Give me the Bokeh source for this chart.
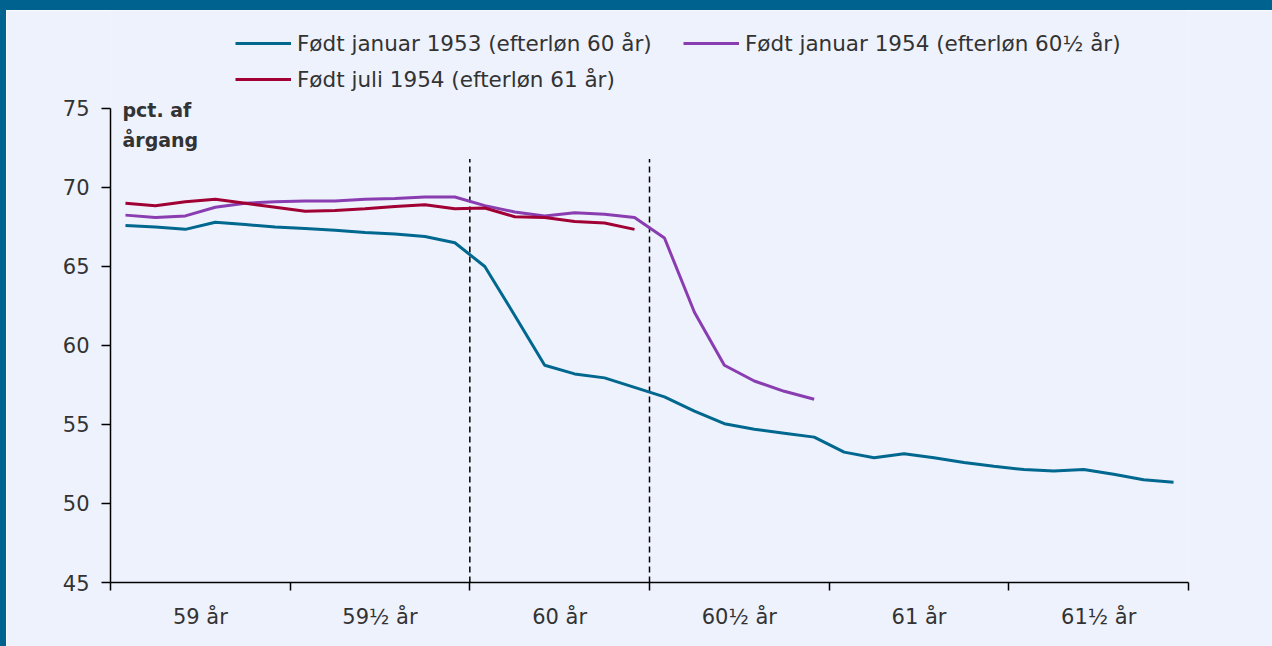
from bokeh.plotting import figure
from bokeh.models import Range1d, FixedTicker, Legend, LegendItem, Label
from bokeh.embed import file_html
from bokeh.resources import INLINE

# ---- data (percent of cohort, monthly) ----
age_labels = ["59 år", "59½ år", "60 år", "60½ år", "61 år", "61½ år"]
months_per_label = 6

born_jan_1953 = [67.6, 67.5, 67.35, 67.8, 67.65, 67.5, 67.4, 67.3, 67.15, 67.05, 66.9, 66.5,
                 65.0, 61.9, 58.75, 58.2, 57.95, 57.35, 56.75, 55.85, 55.05, 54.7, 54.45, 54.2,
                 53.25, 52.9, 53.15, 52.9, 52.6, 52.35, 52.15, 52.05, 52.15, 51.85, 51.5, 51.35]
born_jan_1954 = [68.25, 68.1, 68.2, 68.75, 69.0, 69.1, 69.15, 69.15, 69.25, 69.3, 69.4, 69.4,
                 68.85, 68.45, 68.2, 68.4, 68.3, 68.1, 66.8, 62.1, 58.75, 57.75, 57.1, 56.6]
born_jul_1954 = [69.0, 68.85, 69.1, 69.25, 69.0, 68.75, 68.5, 68.55, 68.65, 68.8, 68.9, 68.65,
                 68.7, 68.15, 68.1, 67.85, 67.75, 67.35]

series_names = ["Født januar 1953 (efterløn 60 år)",
                "Født januar 1954 (efterløn 60½ år)",
                "Født juli 1954 (efterløn 61 år)"]
series_colors = ["#00678F", "#8A3DB0", "#A00034"]

ref_lines_x = [12, 18]          # boundaries 60 år and 60½ år
ref_lines_top = 71.8
y_ticks = [45, 50, 55, 60, 65, 70, 75]
y_axis_min, y_axis_max = 45, 75
y_view_top = 81.2               # room above the axis for the legend

BG = "#EEF2FD"
EDGE = "#00628F"
TXT = "#333333"
FONT = "DejaVu Sans"

n_months = months_per_label * len(age_labels)

p = figure(width=1272, height=646, output_backend="svg", toolbar_location=None,
           x_range=Range1d(0, n_months), y_range=Range1d(y_axis_min, y_view_top),
           min_border_left=104, min_border_right=90, min_border_top=0, min_border_bottom=74)
p.background_fill_color = BG
p.border_fill_color = BG
p.outline_line_color = None
p.grid.visible = False
p.styles = {"border-top": f"10px solid {EDGE}", "border-left": f"6px solid {EDGE}"}

# reference dashed lines
for xv in ref_lines_x:
    p.segment(x0=[xv], y0=[y_axis_min], x1=[xv], y1=[ref_lines_top], line_color="black",
              line_width=1.5, line_dash="6 4")

renderers = []
for vals, col in zip([born_jan_1953, born_jan_1954, born_jul_1954], series_colors):
    xs = [i + 0.5 for i in range(len(vals))]
    r = p.line(xs, vals, line_color=col, line_width=3)
    renderers.append(r)

# axes
xa = p.xaxis[0]
xa.ticker = FixedTicker(ticks=[months_per_label * k + months_per_label / 2 for k in range(len(age_labels))],
                        minor_ticks=[months_per_label * k for k in range(len(age_labels) + 1)])
xa.major_label_overrides = {months_per_label * k + months_per_label / 2: lab for k, lab in enumerate(age_labels)}
xa.major_tick_line_color = None
xa.minor_tick_line_color = "black"
xa.minor_tick_line_width = 1.5
xa.minor_tick_out = 8
xa.minor_tick_in = 0
xa.axis_line_color = "black"
xa.axis_line_width = 1.5
xa.major_label_text_font = FONT
xa.major_label_text_font_size = "21px"
xa.major_label_text_color = TXT
xa.major_label_standoff = 14

ya = p.yaxis[0]
ya.ticker = FixedTicker(ticks=y_ticks)
ya.bounds = (y_axis_min, y_axis_max)
ya.major_tick_out = 9
ya.major_tick_in = 0
ya.major_tick_line_width = 1.5
ya.minor_tick_line_color = None
ya.axis_line_width = 1.5
ya.major_label_text_font = FONT
ya.major_label_text_font_size = "21px"
ya.major_label_text_color = TXT
ya.major_label_standoff = 12

# y title inside plot
p.add_layout(Label(x=0.4, y=y_axis_max, y_offset=9, text="pct. af", text_font=FONT,
                   text_font_size="19px", text_font_style="bold", text_color=TXT,
                   text_baseline="top"))
p.add_layout(Label(x=0.4, y=y_axis_max, y_offset=-21, text="årgang", text_font=FONT,
                   text_font_size="19px", text_font_style="bold", text_color=TXT,
                   text_baseline="top"))

legend = Legend(items=[LegendItem(label=n, renderers=[r]) for n, r in zip(series_names, renderers)],
                location=(125, 488), orientation="horizontal", ncols=2,
                glyph_width=56, glyph_height=30, label_standoff=6, spacing=6,
                label_width=380, padding=0, margin=0,
                border_line_color=None, background_fill_alpha=0,
                label_text_font=FONT, label_text_font_size="21.5px", label_text_color=TXT)
p.add_layout(legend, "center")

open("out.html", "w").write(file_html(p, INLINE))
